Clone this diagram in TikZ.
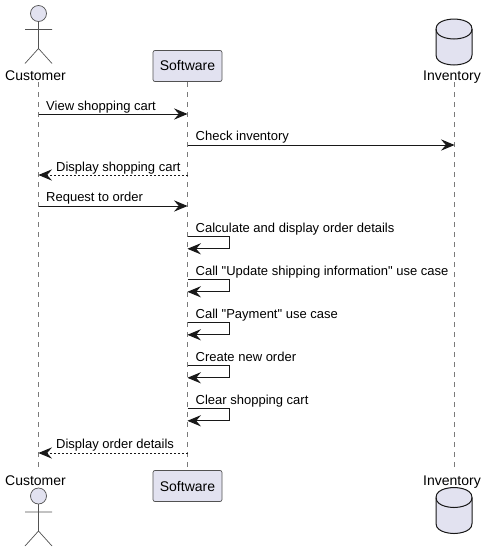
\documentclass[tikz,border=0pt]{standalone}
\usepackage{fontspec}
\newfontfamily\umlfont{Liberation Sans}
\usetikzlibrary{arrows.meta}
\definecolor{partfill}{HTML}{E2E2F0}
\definecolor{partline}{HTML}{181818}
\definecolor{lifeline}{HTML}{7A7A7A}
\pgfdeclarearrow{name=umlhead,defaults={},setup code={\pgfarrowssettipend{0pt}\pgfarrowssetlineend{-8pt}\pgfarrowssavethe\pgflinewidth},drawing code={\pgfsetdash{}{0pt}\pgfsetlinewidth{1pt}\pgfsetmiterjoin\pgfpathmoveto{\pgfpoint{-1.2pt}{0pt}}\pgfpathlineto{\pgfpoint{-11.8pt}{-4.4pt}}\pgfpathlineto{\pgfpoint{-8pt}{0pt}}\pgfpathlineto{\pgfpoint{-11.8pt}{4.4pt}}\pgfpathclose\pgfusepathqfillstroke},parameters={0pt}}
\tikzset{
  x=1pt,y=-1pt,
  msg/.style={draw=partline,fill=partline,line width=1pt,-umlhead},
  reply/.style={draw=partline,line width=.9pt,dash pattern=on 2pt off 2pt,-umlhead},
  selfmsg/.style={draw=partline,line width=1pt,-umlhead},
  lifel/.style={draw=lifeline,line width=.7pt,dash pattern=on 5pt off 5pt},
  lbl/.style={font=\umlfont\fontsize{13pt}{15pt}\selectfont,anchor=base west,inner sep=0pt,text=black},
  partlabel/.style={font=\umlfont\fontsize{14pt}{16pt}\selectfont,anchor=base,inner sep=0pt,text=black},
  softbox/.style={draw=partline!75,line width=.7pt,fill=partfill,rounded corners=2pt,minimum width=69pt,minimum height=31pt,inner sep=0pt,font=\umlfont\fontsize{14pt}{16pt}\selectfont},
  actorline/.style={draw=partline!75,line width=.7pt},
  cyl/.style={draw=partline,line width=1pt,fill=partfill},
}
\newcommand{\actorfig}[1]{%
  \draw[actorline,fill=partfill] (38.5,#1) circle[radius=8];
  \draw[actorline] (38.5,#1+8) -- (38.5,#1+35) (25,#1+16) -- (52,#1+16) (25,#1+50) -- (38.5,#1+35) -- (52,#1+50);
}
\newcommand{\cylfig}[1]{%
  \draw[cyl] (436,#1+10) .. controls (436,#1) and (454,#1) .. (454,#1) .. controls (454,#1) and (472,#1) .. (472,#1+10) -- (472,#1+36) .. controls (472,#1+46) and (454,#1+46) .. (454,#1+46) .. controls (454,#1+46) and (436,#1+46) .. (436,#1+36) -- cycle;
  \draw[cyl,fill=none] (436,#1+10) .. controls (436,#1+20) and (454,#1+20) .. (454,#1+20) .. controls (454,#1+20) and (472,#1+20) .. (472,#1+10);
}
\begin{document}
\begin{tikzpicture}
\useasboundingbox (0,0) rectangle (488,552);
% participants
\coordinate (cT) at (38.5,82);
\coordinate (cB) at (38.5,468);
\coordinate (sT) at (187.5,82);
\coordinate (sB) at (187.5,468);
\coordinate (iT) at (454.5,82);
\coordinate (iB) at (454.5,468);
\draw[lifel] (cT) -- (cB);
\draw[lifel] (sT) -- (sB);
\draw[lifel] (iT) -- (iB);
\actorfig{13.5}
\actorfig{496}
\cylfig{19}
\cylfig{487.5}
\node[partlabel] (custTop) at (35.5,80) {Customer};
\node[partlabel] (custBot) at (35.5,485) {Customer};
\node[partlabel] (invTop) at (452,80) {Inventory};
\node[partlabel] (invBot) at (452,485) {Inventory};
\node[softbox] (softTop) at (187.5,66) {Software};
\node[softbox] (softBot) at (187.5,486) {Software};
% lifeline anchors
\foreach \n/\y in {a/114,b/145,c/175,d/206,e/453}{
  \coordinate (c\n) at (38.5,\y);
  \coordinate (s\n) at (187.5,\y);
  \coordinate (i\n) at (454.5,\y);
}
\draw[msg] (ca) -- (sa);
\node[lbl] (la) at (46,110) {View shopping cart};
\draw[msg] (sb) -- (ib);
\node[lbl] (lb) at (195.5,140) {Check inventory};
\draw[reply] (sc) -- (cc);
\node[lbl] (lc) at (56,171) {Display shopping cart};
\draw[msg] (cd) -- (sd);
\node[lbl] (ld) at (46,201) {Request to order};
\draw[reply] (se) -- (ce);
\node[lbl] (le) at (56,448) {Display order details};
% self messages
\foreach \k/\y/\t in {f/236.3/{Calculate and display order details},g/279.3/{Call "Update shipping information" use case},h/322.3/{Call "Payment" use case},i/365.3/{Create new order},j/408.3/{Clear shopping cart}}{
  \coordinate (s\k1) at (187.5,\y);
  \coordinate (s\k2) at (229.5,\y);
  \coordinate (s\k3) at (229.5,\y+12.5);
  \coordinate (s\k4) at (187.5,\y+12.5);
  \draw[selfmsg] (s\k1) -- (s\k2) -- (s\k3) -- (s\k4);
  \node[lbl] (l\k) at (195.5,\y-4) {\t};
}
\end{tikzpicture}
\end{document}
